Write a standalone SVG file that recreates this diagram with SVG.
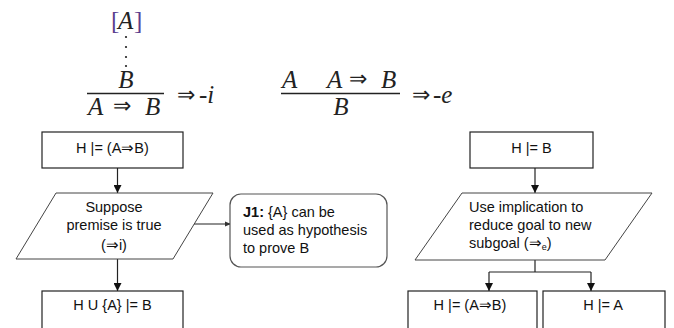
<svg xmlns="http://www.w3.org/2000/svg" width="674" height="328" viewBox="0 0 674 328">
<style>
.m{font-family:"Liberation Serif",serif;font-style:italic;font-size:25px;fill:#222}
.mu{font-family:"Liberation Sans",sans-serif;font-style:normal;font-size:22px;fill:#222}
.br{font-family:"Liberation Serif",serif;font-size:25px;fill:#5b3f8f}
.t{font-family:"Liberation Sans",Arial,sans-serif;font-size:14.5px;fill:#111}
.box{fill:#fff;stroke:#222;stroke-width:1.2}
.par{fill:#fff;stroke:#444;stroke-width:1}
.rbox{fill:#fff;stroke:#555;stroke-width:1.2}
.c{fill:none;stroke:#222;stroke-width:1.2}
</style>
<defs>
<marker id="ah" viewBox="0 0 10 10" refX="10" refY="5" markerWidth="8" markerHeight="8" markerUnits="userSpaceOnUse" orient="auto">
<path d="M0,0 L10,5 L0,10 z" fill="#111"/>
</marker>
<marker id="ah2" viewBox="0 0 10 10" refX="10" refY="5" markerWidth="6" markerHeight="6" markerUnits="userSpaceOnUse" orient="auto">
<path d="M0,1 L10,5 L0,9 z" fill="#333"/>
</marker>
</defs>
<g id="rule-impl-intro">
<text x="111" y="29" class="br">[</text>
<text x="118" y="29" class="m">A</text>
<text x="134" y="29" class="br">]</text>
<g fill="#222"><circle cx="126" cy="37" r="1.1"/><circle cx="126" cy="47" r="1.1"/><circle cx="126" cy="57" r="1.1"/><circle cx="126" cy="66" r="1.1"/></g>
<text x="126" y="88" class="m" text-anchor="middle">B</text>
<line x1="87" y1="93.5" x2="164" y2="93.5" stroke="#222" stroke-width="1.3"/>
<text x="88" y="115" class="m">A</text>
<text x="122" y="113" class="mu" text-anchor="middle">⇒</text>
<text x="145" y="115" class="m">B</text>
<text x="186" y="102" class="mu" text-anchor="middle">⇒</text>
<text x="199" y="103" class="m">-i</text>
</g>
<g id="rule-impl-elim">
<text x="282" y="88" class="m">A</text>
<text x="327" y="88" class="m">A</text>
<text x="358" y="86" class="mu" text-anchor="middle">⇒</text>
<text x="381" y="88" class="m">B</text>
<line x1="281" y1="93.5" x2="400" y2="93.5" stroke="#222" stroke-width="1.3"/>
<text x="341" y="115" class="m" text-anchor="middle">B</text>
<text x="421" y="102" class="mu" text-anchor="middle">⇒</text>
<text x="433" y="103" class="m">-e</text>
</g>
<g id="connectors">
<line x1="117.5" y1="168" x2="117.5" y2="193" class="c" marker-end="url(#ah)"/>
<line x1="193" y1="224" x2="231" y2="224" class="c" stroke-width="1" marker-end="url(#ah2)"/>
<line x1="117.5" y1="259" x2="117.5" y2="291" class="c" marker-end="url(#ah)"/>
<line x1="535" y1="168" x2="535" y2="193" class="c" marker-end="url(#ah)"/>
<line x1="535" y1="260" x2="535" y2="272" class="c"/>
<line x1="489" y1="272" x2="591" y2="272" class="c"/>
<line x1="489" y1="272" x2="489" y2="291" class="c" marker-end="url(#ah)"/>
<line x1="591" y1="272" x2="591" y2="291" class="c" marker-end="url(#ah)"/>
</g>
<g id="n-goal-impl">
<rect x="42" y="132" width="141" height="36" class="box"/>
<text x="112.5" y="153" class="t" text-anchor="middle">H |= (A⇒B)</text>
</g>
<g id="n-suppose">
<polygon points="56,193 213,193 173,259 16,259" class="par"/>
<text class="t" text-anchor="middle"><tspan x="114" y="212">Suppose</tspan><tspan x="114" y="230">premise is true</tspan><tspan x="114" y="250">(⇒i)</tspan></text>
</g>
<g id="n-j1">
<rect x="230" y="194" width="157" height="73" rx="11" class="rbox"/>
<text class="t"><tspan x="243" y="217"><tspan font-weight="bold">J1:</tspan> {A} can be</tspan><tspan x="243" y="235">used as hypothesis</tspan><tspan x="243" y="253">to prove B</tspan></text>
</g>
<g id="n-goal-b-ext">
<rect x="42" y="291" width="141" height="45" class="box"/>
<text x="112.5" y="310" class="t" text-anchor="middle">H U {A} |= B</text>
</g>
<g id="n-goal-b">
<rect x="470" y="132" width="123" height="36" class="box"/>
<text x="531.5" y="153" class="t" text-anchor="middle">H |= B</text>
</g>
<g id="n-use-impl">
<polygon points="462,193 652,193 605,260 415,260" class="par"/>
<text class="t"><tspan x="469" y="212">Use implication to</tspan><tspan x="469" y="230">reduce goal to new</tspan><tspan x="469" y="248">subgoal (⇒<tspan font-size="9" dy="2">e</tspan><tspan dy="-2">)</tspan></tspan></text>
</g>
<g id="n-sub1">
<rect x="408" y="291" width="129" height="45" class="box"/>
<text x="470" y="310" class="t" text-anchor="middle">H |= (A⇒B)</text>
</g>
<g id="n-sub2">
<rect x="543" y="291" width="122" height="45" class="box"/>
<text x="603" y="310" class="t" text-anchor="middle">H |= A</text>
</g>
</svg>
